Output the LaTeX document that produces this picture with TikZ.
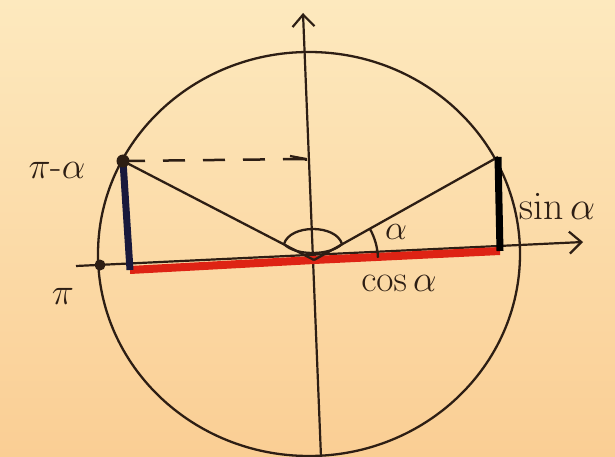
\documentclass[tikz,border=0pt]{standalone}
\usepackage{graphicx}
\usetikzlibrary{arrows.meta}
\definecolor{paperA}{RGB}{253,233,190}
\definecolor{paperB}{RGB}{250,206,148}
\definecolor{ink}{RGB}{45,30,20}
\definecolor{redink}{RGB}{222,35,20}
\definecolor{navy}{RGB}{25,25,60}
\tikzset{
  thin ink/.style={draw=ink, line width=2.3pt},
  axis/.style={draw=ink, line width=2.2pt, -{Straight Barb[length=12pt,width=22pt,line width=2.2pt]}},
  redseg/.style={draw=redink, line width=8pt},
  sinbar/.style={draw=navy, line width=7pt},
  dashline/.style={draw=ink, line width=2.5pt, dash pattern=on 22pt off 18pt},
  dotmark/.style={circle, fill=ink, inner sep=0pt, minimum size=11pt},
  lbl/.style={text=ink, inner sep=0pt, font=\Huge}
}
\begin{document}
\begin{tikzpicture}[x=1pt,y=-1pt]
\useasboundingbox (0,0) rectangle (615,457);
\shade[top color=paperA, bottom color=paperB] (0,0) rectangle (615,457);
% circle
\draw[thin ink] (309,254) ellipse [x radius=211, y radius=202];
% coordinates
\coordinate (O) at (314,260);
\coordinate (ybot) at (321,457);
\coordinate (ytop) at (303,13);
\coordinate (xleft) at (76,266);
\coordinate (xright) at (583,242);
\coordinate (P) at (498,157);
\coordinate (Pfoot) at (500,251);
\coordinate (Q) at (123,161);
\coordinate (Qfoot) at (130,270);
\coordinate (Dend) at (306,159);
% axes
\draw[axis] (ybot) -- (ytop);
\draw[axis] (xleft) -- (xright);
% red cosine segments
\draw[redseg] (Qfoot) -- (O);
\draw[redseg] (O) -- (Pfoot);
% radii
\draw[thin ink] (O) -- (P);
\draw[thin ink] (O) -- (Q);
% sine bars
\draw[sinbar] (Q) -- (Qfoot);
\draw[draw=black, line width=7pt] (P) -- (Pfoot);
% dashed projection
\draw[dashline] (Q) -- (Dend);
\draw[thin ink] (290,156) -- (Dend) -- (306,161);
% angle marks
\draw[thin ink] (O) ++(-29:64) arc[start angle=-29, end angle=-2, radius=64];
\draw[thin ink] (284,244) .. controls (290,224) and (336,224) .. (342,244);
\draw[thin ink] (284,244) .. controls (295,256) and (330,256) .. (342,244);
% points
\node[dotmark] (pi) at (100,265) {};
\node[dotmark, minimum size=13pt] (Qdot) at (Q) {};
% labels
\node[lbl] (lpia) at (57,170) {\scalebox{1.5}{$\pi\mbox{-}\alpha$}};
\node[lbl] (lpi) at (63,296) {\scalebox{1.5}{$\pi$}};
\node[lbl] (lsin) at (557,206) {\scalebox{1.6}{$\sin\alpha$}};
\node[lbl] (lcos) at (399,283) {\scalebox{1.5}{$\cos\alpha$}};
\node[lbl] (lalpha) at (396,232) {\scalebox{1.4}{$\alpha$}};
\end{tikzpicture}
\end{document}
